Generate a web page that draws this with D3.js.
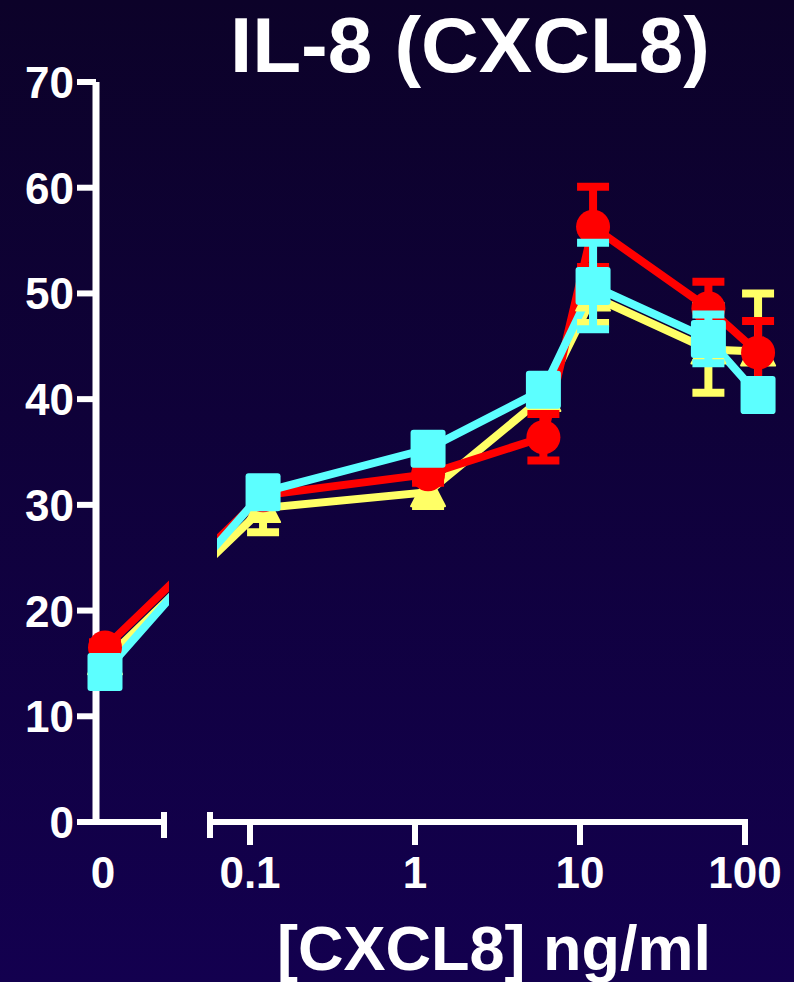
<!DOCTYPE html>
<html><head><meta charset="utf-8">
<script src="https://cdn.jsdelivr.net/npm/d3@7/dist/d3.min.js"></script>
<style>html,body{margin:0;padding:0;background:#0e0034;}svg{display:block}</style>
</head><body><svg id="c" width="794" height="982"></svg>
<script>
const doses = [0, 0.12, 1.2, 6, 12, 60, 120];
const redVals = [16.5, 30.9, 32.9, 36.4, 56.3, 48.6, 44.4];
const redErr = [0.5, 0.8, 0.8, 2.2, 3.8, 2.5, 3.0];
const yellowVals = [15.3, 29.7, 31.2, 40.2, 49.7, 44.7, 44.5];
const yellowErr = [0.5, 2.3, 1.3, 1.0, 2.5, 4.1, 5.5];
const cyanVals = [14.2, 31.2, 35.3, 40.9, 50.7, 45.7, 40.4];
const cyanErr = [0.3, 0.5, 1.0, 1.0, 4.1, 2.3, 0.8];
const yTicks = [0, 10, 20, 30, 40, 50, 60, 70];
const xTicks = [0.1, 1, 10, 100];
const xTickLabels = ["0.1", "1", "10", "100"];
const titleText = "IL-8 (CXCL8)";
const xTitle = "[CXCL8] ng/ml";

const svg = d3.select("#c");
const defs = svg.append("defs");
const grad = defs.append("linearGradient").attr("id","bg").attr("x1",0).attr("y1",0).attr("x2",0).attr("y2",1);
grad.append("stop").attr("offset","0%").attr("stop-color","#0c0229");
grad.append("stop").attr("offset","100%").attr("stop-color","#13004f");
svg.append("rect").attr("width",794).attr("height",982).attr("fill","url(#bg)");

const font = "'Liberation Sans', Arial, Helvetica, sans-serif";
const y = d3.scaleLinear().domain([0,70]).range([822,82]);
const xZero = d3.scaleLinear().domain([-0.15,1]).range([96,165]);
const xLog = d3.scaleLog().domain([0.1,100]).range([250,745]);
const xPos = d => d === 0 ? xZero(0) : xLog(d);

defs.append("clipPath").attr("id","clipA").append("rect").attr("x",0).attr("y",0).attr("width",169).attr("height",982);
defs.append("clipPath").attr("id","clipB").append("rect").attr("x",217).attr("y",0).attr("width",600).attr("height",982);

// axes
const axisCol = "#ffffff";
const ax = svg.append("g");
ax.append("line").attr("x1",96).attr("x2",96).attr("y1",y(70)).attr("y2",y(0)+3).attr("stroke",axisCol).attr("stroke-width",7);
yTicks.forEach(t=>{
  ax.append("line").attr("x1",77).attr("x2",96).attr("y1",y(t)).attr("y2",y(t)).attr("stroke",axisCol).attr("stroke-width",6);
  ax.append("text").attr("x",74).attr("y",y(t)+16).attr("text-anchor","end")
    .attr("font-family",font).attr("font-weight","bold").attr("font-size",44).attr("fill","#fff").text(t);
});
// x axis segment 1
ax.append("line").attr("x1",93).attr("x2",165).attr("y1",822).attr("y2",822).attr("stroke",axisCol).attr("stroke-width",6);
ax.append("line").attr("x1",164).attr("x2",164).attr("y1",812).attr("y2",838).attr("stroke",axisCol).attr("stroke-width",6);
// x axis segment 2
ax.append("line").attr("x1",209).attr("x2",xLog(100)+3).attr("y1",822).attr("y2",822).attr("stroke",axisCol).attr("stroke-width",6);
ax.append("line").attr("x1",210).attr("x2",210).attr("y1",812).attr("y2",838).attr("stroke",axisCol).attr("stroke-width",6);
xTicks.forEach((t,i)=>{
  ax.append("line").attr("x1",xLog(t)).attr("x2",xLog(t)).attr("y1",822).attr("y2",845).attr("stroke",axisCol).attr("stroke-width",6);
  ax.append("text").attr("x",xLog(t)).attr("y",888).attr("text-anchor","middle")
    .attr("font-family",font).attr("font-weight","bold").attr("font-size",44).attr("fill","#fff").text(xTickLabels[i]);
});
ax.append("text").attr("x",xZero(0)-2).attr("y",888).attr("text-anchor","middle")
  .attr("font-family",font).attr("font-weight","bold").attr("font-size",44).attr("fill","#fff").text("0");

svg.append("text").attr("x",470).attr("y",72).attr("text-anchor","middle")
  .attr("font-family",font).attr("font-weight","bold").attr("font-size",78)
  .attr("textLength",480).attr("lengthAdjust","spacingAndGlyphs").attr("fill","#fff").text(titleText);
svg.append("text").attr("x",494).attr("y",970).attr("text-anchor","middle")
  .attr("font-family",font).attr("font-weight","bold").attr("font-size",63).attr("fill","#fff").text(xTitle);

const series = [
  {vals: yellowVals, err: yellowErr, color:"#ffff66", shape:"tri"},
  {vals: redVals, err: redErr, color:"#ff0000", shape:"circle"},
  {vals: cyanVals, err: cyanErr, color:"#5cffff", shape:"square"}
];
const lineGen = d3.line().x(d=>xPos(d[0])).y(d=>y(d[1]));

series.forEach(s=>{
  const pts = doses.map((d,i)=>[d, s.vals[i], s.err[i]]);
  ["clipA","clipB"].forEach(cid=>{
    svg.append("path").attr("d", lineGen(pts)).attr("fill","none").attr("stroke",s.color)
      .attr("stroke-width",8).attr("clip-path",`url(#${cid})`);
  });
});
series.forEach(s=>{
  const g = svg.append("g");
  doses.forEach((d,i)=>{
    const cx = xPos(d), cy = y(s.vals[i]);
    const yt = y(s.vals[i]+s.err[i]), yb = y(s.vals[i]-s.err[i]);
    g.append("line").attr("x1",cx).attr("x2",cx).attr("y1",yt).attr("y2",yb).attr("stroke",s.color).attr("stroke-width",8);
    [yt,yb].forEach(yy=>g.append("line").attr("x1",cx-16).attr("x2",cx+16).attr("y1",yy).attr("y2",yy).attr("stroke",s.color).attr("stroke-width",8));
    if(s.shape==="circle"){
      g.append("ellipse").attr("cx",cx).attr("cy",cy).attr("rx",17).attr("ry",17).attr("fill",s.color);
    } else if(s.shape==="square"){
      g.append("rect").attr("x",cx-17.5).attr("y",cy-19).attr("width",35).attr("height",38).attr("rx",3).attr("fill",s.color);
    } else {
      g.append("path").attr("d",`M${cx},${cy-19} L${cx+17},${cy+14} L${cx-17},${cy+14} Z`).attr("fill",s.color)
        .attr("stroke",s.color).attr("stroke-width",2).attr("stroke-linejoin","round");
    }
  });
});
</script></body></html>
